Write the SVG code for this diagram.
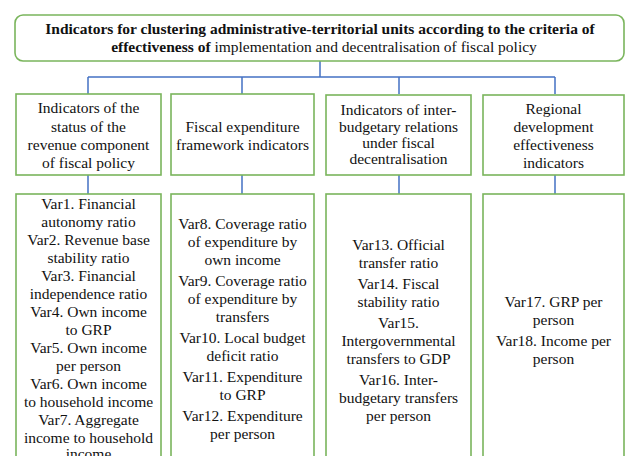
<svg xmlns="http://www.w3.org/2000/svg" width="626" height="456" viewBox="0 0 626 456">
  <style>
    .box { fill: #ffffff; stroke: #7ab55c; stroke-width: 1.6; }
    .wire { fill: none; stroke: #4472c4; stroke-width: 1.5; }
  </style>
  <rect width="626" height="456" fill="#ffffff"/>

  <!-- connectors -->
  <g id="connectors">
    <path class="wire" d="M320,61 V77 M88,77 H555 M88,77 V94 M242,77 V94 M399,77 V94 M555,77 V94"/>
    <path class="wire" d="M88,175 V194 M242,175 V194 M399,175 V194 M555,175 V194"/>
  </g>

  <g font-family="Liberation Serif, Times New Roman, serif" font-size="15.5" fill="#111" text-anchor="middle">
  <!-- root -->
  <g id="root">
    <rect class="box" x="15" y="15" width="609" height="46" rx="8"/>
    <text x="320" y="34" font-weight="bold">Indicators for clustering administrative-territorial units according to the criteria of</text>
    <text x="324" y="52"><tspan font-weight="bold">effectiveness of</tspan> implementation and decentralisation of fiscal policy</text>
  </g>

  <!-- category headers -->
  <g id="revenue-head">
    <rect class="box" x="16" y="94" width="145" height="81"/>
    <text x="88.5" y="113">Indicators of the</text>
    <text x="88.5" y="132">status of the</text>
    <text x="88.5" y="150">revenue component</text>
    <text x="88.5" y="168">of fiscal policy</text>
  </g>
  <g id="expenditure-head">
    <rect class="box" x="171" y="94" width="143" height="81"/>
    <text x="242.5" y="132">Fiscal expenditure</text>
    <text x="242.5" y="150">framework indicators</text>
  </g>
  <g id="interbudget-head">
    <rect class="box" x="326" y="95" width="145" height="80"/>
    <text x="398.5" y="115">Indicators of inter-</text>
    <text x="398.5" y="132">budgetary relations</text>
    <text x="398.5" y="148">under fiscal</text>
    <text x="398.5" y="164">decentralisation</text>
  </g>
  <g id="development-head">
    <rect class="box" x="483" y="95" width="141" height="80"/>
    <text x="553.5" y="114">Regional</text>
    <text x="553.5" y="132">development</text>
    <text x="553.5" y="150">effectiveness</text>
    <text x="553.5" y="168">indicators</text>
  </g>

  <!-- indicator lists -->
  <g id="revenue-vars">
    <rect class="box" x="16" y="194" width="145" height="280"/>
    <text x="88.5" y="209">Var1. Financial</text>
    <text x="88.5" y="227">autonomy ratio</text>
    <text x="88.5" y="245">Var2. Revenue base</text>
    <text x="88.5" y="263">stability ratio</text>
    <text x="88.5" y="281">Var3. Financial</text>
    <text x="88.5" y="299">independence ratio</text>
    <text x="88.5" y="317">Var4. Own income</text>
    <text x="88.5" y="335">to GRP</text>
    <text x="88.5" y="353">Var5. Own income</text>
    <text x="88.5" y="371">per person</text>
    <text x="88.5" y="389">Var6. Own income</text>
    <text x="88.5" y="407">to household income</text>
    <text x="88.5" y="425">Var7. Aggregate</text>
    <text x="88.5" y="443">income to household</text>
    <text x="88.5" y="459">income</text>
  </g>
  <g id="expenditure-vars">
    <rect class="box" x="171" y="194" width="143" height="280"/>
    <text x="242.5" y="229">Var8. Coverage ratio</text>
    <text x="242.5" y="247">of expenditure by</text>
    <text x="242.5" y="265">own income</text>
    <text x="242.5" y="286">Var9. Coverage ratio</text>
    <text x="242.5" y="304">of expenditure by</text>
    <text x="242.5" y="322">transfers</text>
    <text x="242.5" y="343">Var10. Local budget</text>
    <text x="242.5" y="361">deficit ratio</text>
    <text x="242.5" y="382">Var11. Expenditure</text>
    <text x="242.5" y="400">to GRP</text>
    <text x="242.5" y="421">Var12. Expenditure</text>
    <text x="242.5" y="439">per person</text>
  </g>
  <g id="interbudget-vars">
    <rect class="box" x="326" y="194" width="145" height="280"/>
    <text x="398.5" y="250">Var13. Official</text>
    <text x="398.5" y="268">transfer ratio</text>
    <text x="398.5" y="289">Var14. Fiscal</text>
    <text x="398.5" y="307">stability ratio</text>
    <text x="398.5" y="328">Var15.</text>
    <text x="398.5" y="346">Intergovernmental</text>
    <text x="398.5" y="364">transfers to GDP</text>
    <text x="398.5" y="385">Var16. Inter-</text>
    <text x="398.5" y="403">budgetary transfers</text>
    <text x="398.5" y="421">per person</text>
  </g>
  <g id="development-vars">
    <rect class="box" x="483" y="194" width="141" height="280"/>
    <text x="553.5" y="307">Var17. GRP per</text>
    <text x="553.5" y="325">person</text>
    <text x="553.5" y="346">Var18. Income per</text>
    <text x="553.5" y="364">person</text>
  </g>
  </g>
</svg>
